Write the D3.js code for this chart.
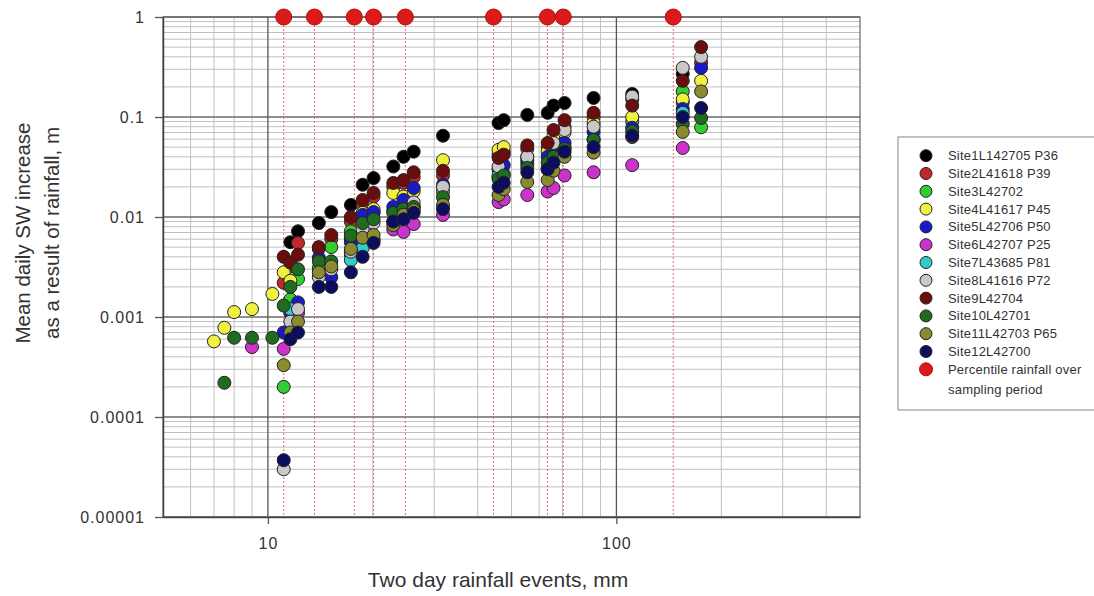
<!DOCTYPE html>
<html>
<head>
<meta charset="utf-8">
<script src="https://cdn.jsdelivr.net/npm/d3@7/dist/d3.min.js"></script>
<style>
  body { margin: 0; background: #fff; }
  svg { display: block; font-family: "Liberation Sans", Arial, sans-serif; }
</style>
</head>
<body>
<svg id="chart" width="1094" height="596"></svg>
<script>
// ---------- DATA ----------
const events = [7.0, 7.5, 8.0, 9.0, 10.3, 11.1, 11.6, 12.2, 14.0, 15.2, 17.3, 18.7, 20.1, 22.9, 24.5, 26.2, 31.8, 45.9, 47.5, 55.5, 63.5, 66, 71, 86, 111, 155, 175];
const N = null;
const site1  = [N,N,N,N,N, N, 0.0056, 0.0072, 0.0087, 0.0112, 0.0132, 0.021, 0.0245, 0.032, 0.040, 0.045, 0.065, 0.087, 0.093, 0.105, 0.11, 0.13, 0.138, 0.155, 0.17, 0.27, N];
const site2  = [N,N,N,N,N, 0.0022, 0.0032, 0.0055, 0.0048, 0.006, 0.009, 0.013, 0.016, 0.020, 0.022, 0.025, 0.026, 0.042, 0.045, 0.048, 0.050, 0.060, 0.080, 0.10, 0.15, 0.14, 0.35];
const site3  = [N,N,N,N,N, 0.0002, 0.0015, 0.0024, 0.0031, 0.005, 0.0072, 0.0092, 0.011, 0.0115, 0.013, 0.0126, 0.018, 0.025, 0.027, 0.034, 0.030, 0.045, 0.050, 0.060, 0.09, 0.18, 0.079];
const site4  = [0.00057, 0.00078, 0.00112, 0.0012, 0.0017, 0.0028, 0.0023, N, N, N, 0.0062, 0.011, 0.012, 0.0174, 0.016, 0.018, 0.037, 0.047, 0.050, 0.040, 0.045, 0.065, 0.070, 0.087, 0.10, 0.15, 0.23];
const site5  = [N,N,N,N,N, 0.0007, 0.0011, 0.0014, 0.0039, 0.0025, 0.0056, 0.0105, 0.0112, 0.0126, 0.0148, 0.0195, 0.021, 0.030, 0.033, 0.037, 0.040, 0.042, 0.055, 0.071, 0.078, 0.12, 0.31];
const site6  = [N,N,N,0.0005,N, 0.00048, N, 0.0011, N, N, 0.0042, 0.005, 0.006, 0.0075, 0.0071, 0.0085, 0.0105, 0.0141, 0.015, 0.0166, 0.018, 0.0195, 0.026, 0.028, 0.033, 0.049, N];
const site7  = [N,N,N,N,N, N, 0.0012, N, N, N, 0.0037, 0.0049, 0.0058, N, N, N, N, 0.026, N, N, 0.031, N, N, N, N, 0.11, N];
const site8  = [N,N,N,N,N, 0.00003, 0.0009, 0.0012, 0.0025, 0.003, 0.0045, 0.0075, 0.0087, 0.009, 0.012, 0.014, 0.020, 0.032, N, 0.040, N, 0.055, 0.074, 0.080, 0.16, 0.31, 0.40];
const site9  = [N,N,N,N,N, 0.004, 0.0035, 0.0042, 0.005, 0.0066, 0.010, 0.0148, 0.0174, 0.0219, 0.0234, 0.028, 0.029, 0.039, 0.042, 0.052, 0.055, 0.074, 0.093, 0.11, 0.13, 0.23, 0.50];
const site10 = [N, 0.00022, 0.00062, 0.00062, 0.00062, 0.0013, 0.002, 0.003, 0.0036, 0.0036, 0.0065, 0.0087, 0.0095, 0.011, 0.012, 0.0126, 0.0158, 0.024, 0.026, 0.031, 0.035, 0.040, 0.048, 0.059, 0.072, 0.085, 0.098];
const site11 = [N,N,N,N,N, 0.00033, 0.0007, 0.0009, 0.0028, 0.0032, 0.0048, 0.0062, 0.0066, 0.0083, 0.0105, 0.0117, 0.0132, 0.0166, 0.019, 0.0224, 0.0234, 0.029, 0.040, 0.044, 0.063, 0.071, 0.18];
const site12 = [N,N,N,N,N, 0.000037, 0.0006, 0.0007, 0.002, 0.002, 0.0028, 0.004, 0.0055, 0.009, 0.0095, 0.011, 0.012, 0.020, 0.022, 0.028, 0.030, 0.035, 0.045, 0.050, 0.065, 0.10, 0.123];

const percentileRain = [11.1, 13.6, 17.7, 20.1, 24.8, 44.4, 63.4, 70.4, 145.6];
const percentileLevel = 1;

const siteNames = ["Site1L142705 P36", "Site2L41618 P39", "Site3L42702", "Site4L41617 P45", "Site5L42706 P50", "Site6L42707 P25", "Site7L43685 P81", "Site8L41616 P72", "Site9L42704", "Site10L42701", "Site11L42703 P65", "Site12L42700"];
const siteColors = ["#000000", "#c0282d", "#33cc33", "#f0f040", "#1a1ac8", "#cc33cc", "#33cccc", "#c8c8c8", "#6b0d0d", "#1f6b1f", "#8a8a2e", "#0d0d5e"];
const siteValues = [site1, site2, site3, site4, site5, site6, site7, site8, site9, site10, site11, site12];
const percentileLabel = ["Percentile rainfall over", "sampling period"];

const xTicks = [10, 100];
const yTicks = [1e-5, 1e-4, 1e-3, 1e-2, 1e-1, 1];
const yTickLabels = ["0.00001", "0.0001", "0.001", "0.01", "0.1", "1"];

// ---------- LAYOUT ----------
const svg = d3.select("#chart");
const L = 163, R = 860, T = 17, B = 517;
const x = d3.scaleLog().domain([5, 500]).range([L, R]);
const y = d3.scaleLog().domain([1e-5, 1]).range([B, T]);

// minor grid
const xMinor = [];
[1, 10, 100].forEach(d => { for (let k = 2; k <= 9; k++) { const v = k * d; if (v > 5 && v < 500) xMinor.push(v); } });
const yMinor = [];
[1e-5, 1e-4, 1e-3, 1e-2, 1e-1].forEach(d => { for (let k = 2; k <= 9; k++) yMinor.push(k * d); });

const grid = svg.append("g");
grid.selectAll(".vmin").data(xMinor).enter().append("line")
  .attr("x1", d => x(d)).attr("x2", d => x(d)).attr("y1", T).attr("y2", B)
  .attr("stroke", "#c0c0c0").attr("stroke-width", 1);
grid.selectAll(".hmin").data(yMinor).enter().append("line")
  .attr("x1", L).attr("x2", R).attr("y1", d => y(d)).attr("y2", d => y(d))
  .attr("stroke", "#c0c0c0").attr("stroke-width", 1);
grid.selectAll(".hmaj").data(yTicks).enter().append("line")
  .attr("x1", L).attr("x2", R).attr("y1", d => y(d)).attr("y2", d => y(d))
  .attr("stroke", "#6a6a6a").attr("stroke-width", 1.3);
grid.selectAll(".vmaj").data(xTicks).enter().append("line")
  .attr("x1", d => x(d)).attr("x2", d => x(d)).attr("y1", T).attr("y2", B)
  .attr("stroke", "#555").attr("stroke-width", 1.3);

// frame
svg.append("rect").attr("x", L).attr("y", T).attr("width", R - L).attr("height", B - T)
  .attr("fill", "none").attr("stroke", "#666").attr("stroke-width", 1.2);

// axes
const yAxis = d3.axisLeft(y).tickValues(yTicks).tickFormat((d, i) => yTickLabels[i]).tickSize(8).tickSizeOuter(0).tickPadding(10);
const gy = svg.append("g").attr("transform", `translate(${L},0)`).call(yAxis);
const xAxis = d3.axisBottom(x).tickValues(xTicks).tickFormat(d3.format("d")).tickSize(7).tickSizeOuter(0).tickPadding(14);
const gx = svg.append("g").attr("transform", `translate(0,${B})`).call(xAxis);
[gx, gy].forEach(g => {
  g.select(".domain").attr("stroke", "#444").attr("stroke-width", 1.5);
  g.selectAll(".tick line").attr("stroke", "#555").attr("stroke-width", 1.3);
  g.selectAll(".tick text").attr("fill", "#333").style("font-size", "16px")
    .style("letter-spacing", "1px").style("font-family", '"Liberation Sans", Arial, sans-serif');
});

// percentile dotted lines
svg.append("g").selectAll("line").data(percentileRain).enter().append("line")
  .attr("x1", d => x(d)).attr("x2", d => x(d)).attr("y1", y(percentileLevel)).attr("y2", B)
  .attr("stroke", "#e07070").attr("stroke-width", 1).attr("stroke-dasharray", "2,2");

// site points
siteValues.forEach((vals, si) => {
  const pts = events.map((e, i) => ({ x: e, v: vals[i] })).filter(d => d.v != null);
  svg.append("g").selectAll("circle").data(pts).enter().append("circle")
    .attr("cx", d => x(d.x)).attr("cy", d => y(d.v)).attr("r", 6.5)
    .attr("fill", siteColors[si]).attr("stroke", "#222").attr("stroke-width", 1);
});

// percentile markers
svg.append("g").selectAll("circle").data(percentileRain).enter().append("circle")
  .attr("cx", d => x(d)).attr("cy", y(percentileLevel)).attr("r", 8)
  .attr("fill", "#dd1a1a").attr("stroke", "#b01010").attr("stroke-width", 1);

// axis titles
svg.append("text").attr("x", 498).attr("y", 587).attr("text-anchor", "middle")
  .style("font-size", "21px").attr("fill", "#333").text("Two day rainfall events, mm");
const yt = svg.append("text").attr("transform", "translate(30,233) rotate(-90)").attr("text-anchor", "middle")
  .style("font-size", "20.5px").attr("fill", "#333");
yt.append("tspan").attr("x", 0).attr("y", 0).text("Mean daily SW increase");
yt.append("tspan").attr("x", 0).attr("y", 29).text("as a result of rainfall, m");

// legend
const lg = svg.append("g");
lg.append("rect").attr("x", 898).attr("y", 137).attr("width", 210).attr("height", 273)
  .attr("fill", "#fff").attr("stroke", "#999").attr("stroke-width", 1.2);
const rowY = i => 155.7 + i * 17.8;
siteNames.forEach((name, i) => {
  lg.append("circle").attr("cx", 926).attr("cy", rowY(i)).attr("r", 6)
    .attr("fill", siteColors[i]).attr("stroke", "#222").attr("stroke-width", 1);
  lg.append("text").attr("x", 948).attr("y", rowY(i) + 4.5).style("font-size", "13px")
    .style("letter-spacing", "0.2px").attr("fill", "#333").text(name);
});
lg.append("circle").attr("cx", 926).attr("cy", rowY(12)).attr("r", 6.5)
  .attr("fill", "#dd1a1a").attr("stroke", "#b01010").attr("stroke-width", 1);
percentileLabel.forEach((t, j) => {
  lg.append("text").attr("x", 948).attr("y", rowY(12) + 4.5 + j * 20).style("font-size", "13px")
    .style("letter-spacing", "0.2px").attr("fill", "#333").text(t);
});
</script>
</body>
</html>
